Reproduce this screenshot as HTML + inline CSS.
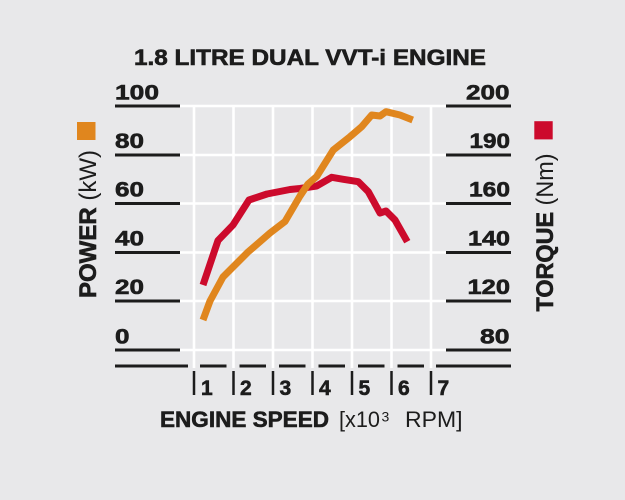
<!DOCTYPE html>
<html>
<head>
<meta charset="utf-8">
<style>
  html,body{margin:0;padding:0;background:#e8e8ea;}
  svg{display:block;}
  text{font-family:"Liberation Sans", Arial, sans-serif; fill:#1c1c1c;}
  .b{font-weight:bold; stroke:#1c1c1c; stroke-width:0.6px;}
</style>
</head>
<body>
<svg width="625" height="500" viewBox="0 0 625 500" xmlns="http://www.w3.org/2000/svg">
  <rect x="0" y="0" width="625" height="500" fill="#e8e8ea"/>

  <!-- Title -->
  <text x="134" y="65" class="b" font-size="22" textLength="352" lengthAdjust="spacingAndGlyphs">1.8 LITRE DUAL VVT-i ENGINE</text>

  <!-- white grid -->
  <g stroke="#ffffff" stroke-width="2.6">
    <line x1="180" y1="106" x2="446" y2="106"/>
    <line x1="180" y1="155" x2="446" y2="155"/>
    <line x1="180" y1="203.5" x2="446" y2="203.5"/>
    <line x1="180" y1="252.5" x2="446" y2="252.5"/>
    <line x1="180" y1="301" x2="446" y2="301"/>
    <line x1="180" y1="350" x2="446" y2="350"/>
    <line x1="194" y1="105" x2="194" y2="368"/>
    <line x1="233.5" y1="105" x2="233.5" y2="368"/>
    <line x1="273" y1="105" x2="273" y2="368"/>
    <line x1="312.5" y1="105" x2="312.5" y2="368"/>
    <line x1="352" y1="105" x2="352" y2="368"/>
    <line x1="391.5" y1="105" x2="391.5" y2="368"/>
    <line x1="431" y1="105" x2="431" y2="368"/>
  </g>

  <!-- dark underlines -->
  <g stroke="#1c1c1c" stroke-width="3">
    <line x1="115" y1="106" x2="180" y2="106"/>
    <line x1="115" y1="155" x2="180" y2="155"/>
    <line x1="115" y1="203.5" x2="180" y2="203.5"/>
    <line x1="115" y1="252.5" x2="180" y2="252.5"/>
    <line x1="115" y1="301" x2="180" y2="301"/>
    <line x1="115" y1="350" x2="180" y2="350"/>
    <line x1="446" y1="106" x2="511" y2="106"/>
    <line x1="446" y1="155" x2="511" y2="155"/>
    <line x1="446" y1="203.5" x2="511" y2="203.5"/>
    <line x1="446" y1="252.5" x2="511" y2="252.5"/>
    <line x1="446" y1="301" x2="511" y2="301"/>
    <line x1="446" y1="350" x2="511" y2="350"/>
    <!-- bottom axis line with gaps -->
    <line x1="115" y1="366" x2="188" y2="366"/>
    <line x1="200" y1="366" x2="226.5" y2="366"/>
    <line x1="239.5" y1="366" x2="266" y2="366"/>
    <line x1="279" y1="366" x2="305.5" y2="366"/>
    <line x1="318.5" y1="366" x2="345" y2="366"/>
    <line x1="358" y1="366" x2="384.5" y2="366"/>
    <line x1="397.5" y1="366" x2="424" y2="366"/>
    <line x1="436" y1="366" x2="511" y2="366"/>
  </g>
  <!-- tick bars -->
  <g stroke="#1c1c1c" stroke-width="2.5">
    <line x1="194" y1="371" x2="194" y2="395"/>
    <line x1="233.5" y1="371" x2="233.5" y2="395"/>
    <line x1="273" y1="371" x2="273" y2="395"/>
    <line x1="312.5" y1="371" x2="312.5" y2="395"/>
    <line x1="352" y1="371" x2="352" y2="395"/>
    <line x1="391.5" y1="371" x2="391.5" y2="395"/>
    <line x1="431" y1="371" x2="431" y2="395"/>
  </g>
  <!-- x tick labels -->
  <g font-size="21">
    <text x="201" y="395" class="b">1</text>
    <text x="240" y="395" class="b">2</text>
    <text x="279.5" y="395" class="b">3</text>
    <text x="319" y="395" class="b">4</text>
    <text x="358.5" y="395" class="b">5</text>
    <text x="398" y="395" class="b">6</text>
    <text x="437.5" y="395" class="b">7</text>
  </g>

  <!-- left labels -->
  <g font-size="21">
    <text x="115" y="99.5" class="b" textLength="44" lengthAdjust="spacingAndGlyphs">100</text>
    <text x="115" y="148" class="b" textLength="29" lengthAdjust="spacingAndGlyphs">80</text>
    <text x="115" y="196.7" class="b" textLength="29" lengthAdjust="spacingAndGlyphs">60</text>
    <text x="115" y="245.7" class="b" textLength="29" lengthAdjust="spacingAndGlyphs">40</text>
    <text x="115" y="294" class="b" textLength="29" lengthAdjust="spacingAndGlyphs">20</text>
    <text x="115" y="343.3" class="b" textLength="14.5" lengthAdjust="spacingAndGlyphs">0</text>
  </g>
  <!-- right labels -->
  <g font-size="21">
    <text x="466" y="99.5" class="b" textLength="43.5" lengthAdjust="spacingAndGlyphs">200</text>
    <text x="469.5" y="148" class="b" textLength="40.5" lengthAdjust="spacingAndGlyphs">190</text>
    <text x="469" y="196.7" class="b" textLength="41" lengthAdjust="spacingAndGlyphs">160</text>
    <text x="468" y="245.7" class="b" textLength="42" lengthAdjust="spacingAndGlyphs">140</text>
    <text x="467.5" y="294" class="b" textLength="42.5" lengthAdjust="spacingAndGlyphs">120</text>
    <text x="480" y="343.3" class="b" textLength="29.5" lengthAdjust="spacingAndGlyphs">80</text>
  </g>

  <!-- legend squares -->
  <rect x="77" y="122" width="18.5" height="18" fill="#e0861e"/>
  <rect x="534.3" y="121.2" width="18.4" height="18.2" fill="#cc0a2c"/>

  <!-- rotated axis titles -->
  <text transform="translate(96,298) rotate(-90)" font-size="24" textLength="148" lengthAdjust="spacingAndGlyphs"><tspan class="b">POWER</tspan><tspan> (kW)</tspan></text>
  <text transform="translate(553,311.5) rotate(-90)" font-size="24" textLength="158" lengthAdjust="spacingAndGlyphs"><tspan class="b">TORQUE</tspan><tspan> (Nm)</tspan></text>

  <!-- x axis title -->
  <text x="160" y="427" class="b" font-size="22" textLength="169" lengthAdjust="spacingAndGlyphs">ENGINE SPEED</text>
  <text x="339" y="427" font-size="22" textLength="41" lengthAdjust="spacingAndGlyphs">[x10</text>
  <text x="381.5" y="421.5" font-size="14">3</text>
  <text x="405" y="427" font-size="22" textLength="57.5" lengthAdjust="spacingAndGlyphs">RPM]</text>

  <!-- curves -->
  <polyline fill="none" stroke="#cc0a2c" stroke-width="7" stroke-linejoin="round" stroke-linecap="butt"
    points="203,285 218,240.5 233,225 249,200 267,194 290,189.5 300,188.5 316.7,186 331.7,177.3 343.3,179.3 358.3,181.7 368.3,191.7 380,213 386,211 395,220 407.3,241.7"/>
  <polyline fill="none" stroke="#e0861e" stroke-width="7" stroke-linejoin="round" stroke-linecap="butt"
    points="203,320 210,301 223,277 248,252 270,233 285,221.5 300,196 308,184 316.7,176.5 333.3,150 350,136.7 361.7,126.7 371.7,115 380,116 386,111.7 400,115 412.7,120"/>
</svg>
</body>
</html>
